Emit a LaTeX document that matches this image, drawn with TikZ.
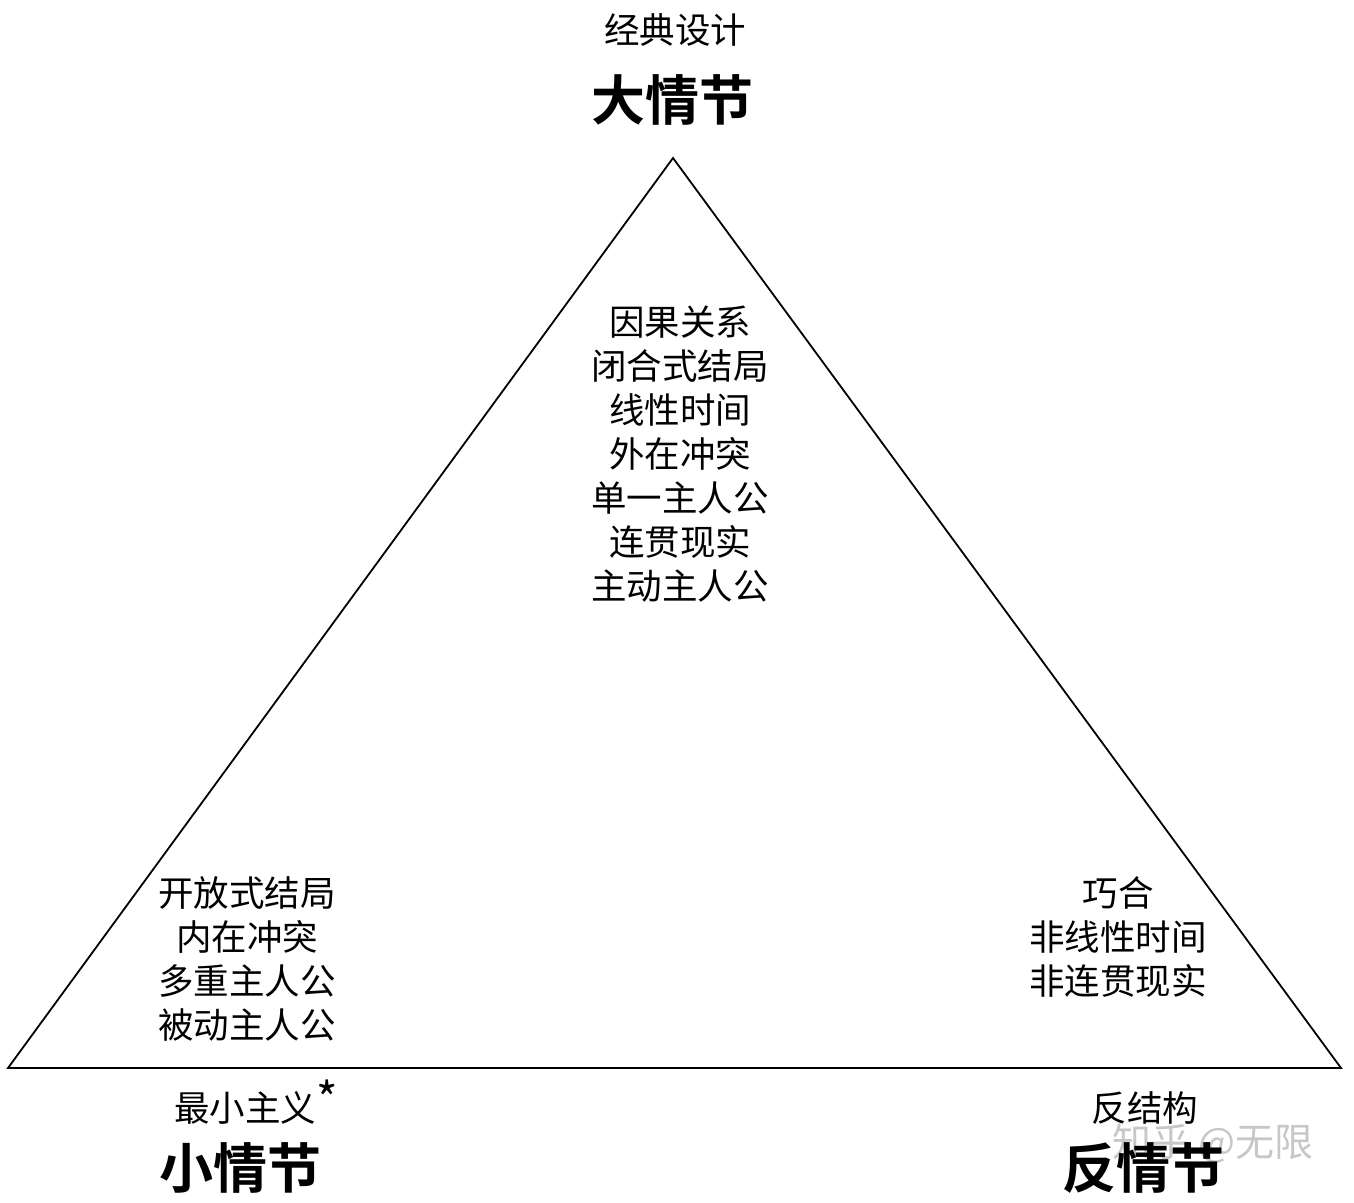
\documentclass[tikz,border=0pt]{standalone}
\usepackage{fontspec}
\newfontfamily\cjk{Noto Sans CJK SC}
\newfontfamily\cjkb{Noto Sans CJK SC Bold}
\begin{document}
\begin{tikzpicture}[x=1pt,y=-1pt,
  txt/.style={font=\cjk\fontsize{35.5}{44}\selectfont, align=center, inner sep=0pt},
  ttl/.style={font=\cjkb\fontsize{54}{60}\selectfont, inner sep=0pt},
  wm/.style={font=\cjk\fontsize{39}{42}\selectfont, text=black!22, inner sep=0pt}]
\useasboundingbox (0,0) rectangle (1354,1202);
\coordinate (A) at (673,158);
\coordinate (B) at (8,1068);
\coordinate (C) at (1341,1068);
\draw[line width=1.8pt, line join=miter] (A) -- (B) -- (C) -- cycle;
\node[txt] (top1) at (675,30) {经典设计};
\node[ttl] (top2) at (672,100) {大情节};
\node[txt] (mid) at (680,454) {因果关系\\闭合式结局\\线性时间\\外在冲突\\单一主人公\\连贯现实\\主动主人公};
\node[txt] (left) at (247,959) {开放式结局\\内在冲突\\多重主人公\\被动主人公};
\node[txt] (right) at (1118,937) {巧合\\非线性时间\\非连贯现实};
\node[txt] (bl1) at (245,1108) {最小主义};
\node[font=\cjk\fontsize{46}{50}\selectfont, inner sep=0pt] (ast) at (327,1098) {*};
\node[ttl] (bl2) at (240,1168) {小情节};
\node[wm] (wm) at (1213,1143) {知乎 @无限};
\node[txt] (br1) at (1145,1108) {反结构};
\node[ttl] (br2) at (1143,1168) {反情节};
\end{tikzpicture}
\end{document}
